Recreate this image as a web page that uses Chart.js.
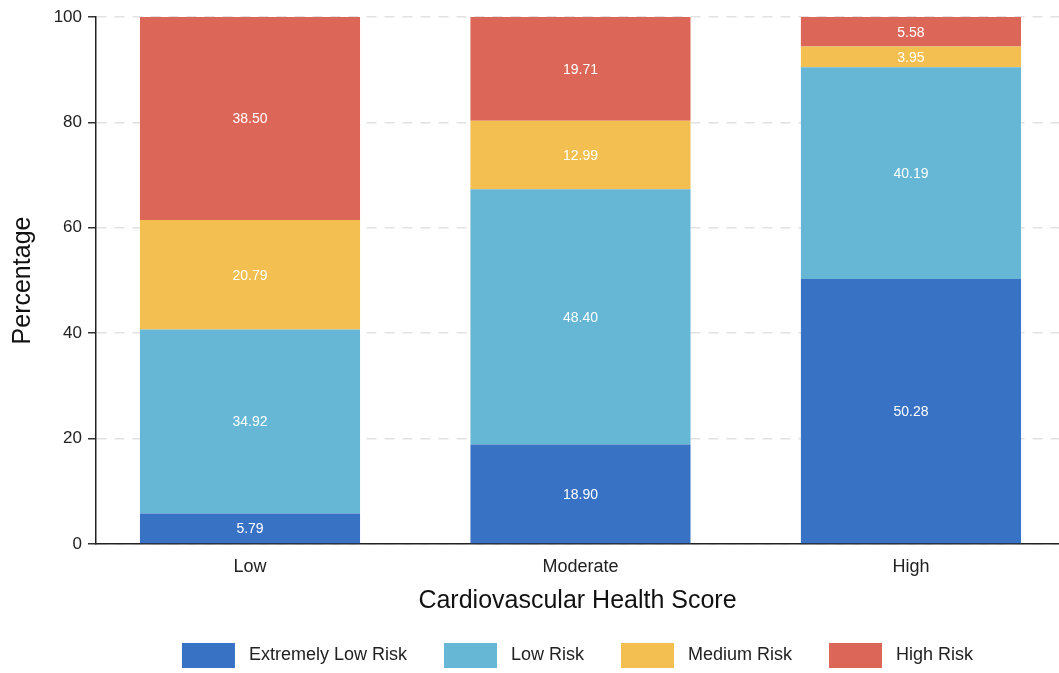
<!DOCTYPE html>
<html>
<head>
<meta charset="utf-8">
<script src="https://cdn.jsdelivr.net/npm/chart.js@4"></script>
<style>
  html, body { margin: 0; padding: 0; background: #ffffff; overflow: hidden; }
  #wrap { width: 1059px; height: 673px; position: relative; }
</style>
</head>
<body>
<div id="wrap"><canvas id="c" width="1059" height="673"></canvas></div>
<script>
const categories = ['Low', 'Moderate', 'High'];
const seriesNames = ['Extremely Low Risk', 'Low Risk', 'Medium Risk', 'High Risk'];
const extremelyLowRisk = [5.79, 18.90, 50.28];
const lowRisk = [34.92, 48.40, 40.19];
const mediumRisk = [20.79, 12.99, 3.95];
const highRisk = [38.50, 19.71, 5.58];
const yTicks = [0, 20, 40, 60, 80, 100];
const colors = ['#3872C4', '#66B6D6', '#F2BF50', '#DC6657'];

const seriesValues = [extremelyLowRisk, lowRisk, mediumRisk, highRisk];
const FONT = "'Liberation Sans', Arial, sans-serif";

const valueLabels = {
  id: 'valueLabels',
  afterDatasetsDraw(chart) {
    const ctx = chart.ctx;
    ctx.save();
    ctx.fillStyle = '#ffffff';
    ctx.font = '14px ' + FONT;
    ctx.textAlign = 'center';
    ctx.textBaseline = 'middle';
    chart.data.datasets.forEach((ds, di) => {
      const meta = chart.getDatasetMeta(di);
      meta.data.forEach((el, i) => {
        const p = el.getProps(['x', 'y', 'base'], true);
        ctx.fillText(seriesValues[di][i].toFixed(2), p.x, (p.y + p.base) / 2 + 1);
      });
    });
    ctx.restore();
  }
};

const datasets = seriesNames.map((name, k) => ({
  label: ' ' + name,
  data: seriesValues[k].map((v, i) => ({ x: i, y: v })),
  backgroundColor: colors[k],
  borderWidth: 0,
  categoryPercentage: 1,
  barPercentage: 0.666
}));

new Chart(document.getElementById('c'), {
  type: 'bar',
  data: { datasets },
  plugins: [valueLabels],
  options: {
    responsive: false,
    animation: false,
    layout: { padding: { top: 17, right: 0, bottom: 0, left: 0 } },
    plugins: {
      tooltip: { enabled: false },
      legend: {
        position: 'bottom',
        fullSize: false,
        maxHeight: 67,
        labels: {
          boxWidth: 53,
          boxHeight: 25,
          padding: 37,
          color: '#222222',
          font: { family: FONT, size: 18 }
        }
      }
    },
    scales: {
      x: {
        type: 'linear',
        stacked: true,
        offset: false,
        min: -0.466,
        max: 2.448,
        afterBuildTicks: (s) => { s.ticks = categories.map((c, i) => ({ value: i })); },
        afterFit: (s) => { s.height = 62; },
        grid: { display: false, drawTicks: false, offset: false },
        border: { display: true, color: '#222222', width: 1.5 },
        ticks: {
          padding: 12,
          color: '#222222',
          font: { family: FONT, size: 18 },
          callback: (v) => categories[v]
        },
        title: {
          display: true,
          text: 'Cardiovascular Health Score',
          color: '#111111',
          font: { family: FONT, size: 25 },
          padding: { top: 0, bottom: -10 }
        }
      },
      y: {
        stacked: true,
        min: 0,
        max: 100,
        afterBuildTicks: (s) => { s.ticks = yTicks.map(v => ({ value: v })); },
        afterFit: (s) => { s.width = 96; },
        grid: {
          color: '#e2e2e2',
          lineWidth: 1.5,
          tickLength: 8,
          tickColor: '#333333',
          tickWidth: 1.5
        },
        border: { display: true, color: '#222222', width: 1.5, dash: [10, 8] },
        ticks: {
          padding: 6,
          color: '#222222',
          font: { family: FONT, size: 17 }
        },
        title: {
          display: true,
          text: 'Percentage',
          color: '#111111',
          font: { family: FONT, size: 25 },
          padding: { top: 8, bottom: 0 }
        }
      }
    }
  }
});
</script>
</body>
</html>
